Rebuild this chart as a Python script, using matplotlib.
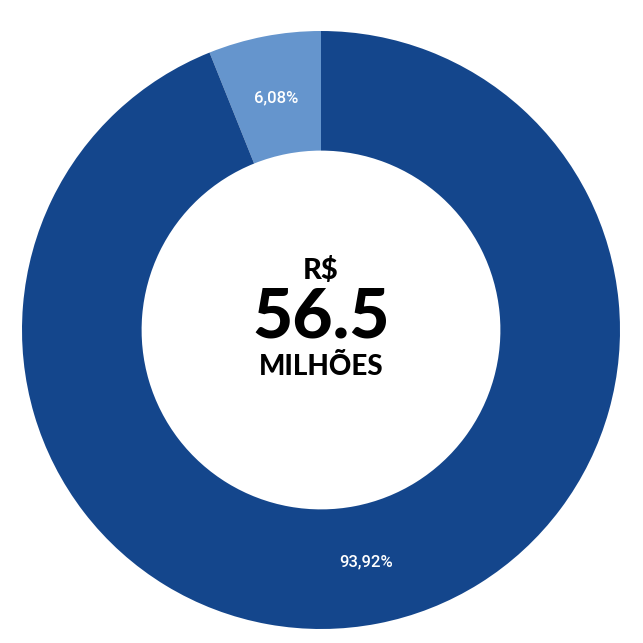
import matplotlib.pyplot as plt

partes = [6.08, 93.92]
cores = ['#6595cd', '#14468c']
total = '56.5'

fig = plt.figure(figsize=(6.43, 6.43), dpi=100)
ax = fig.add_axes([0, 0, 1, 1])


def fmt(p):
    return ('%.2f%%' % p).replace('.', ',')


wedges, txts, pcts = ax.pie(partes, colors=cores, startangle=90, counterclock=True,
                            radius=1, autopct=fmt, pctdistance=0.79,
                            wedgeprops=dict(width=0.4, edgecolor='none'))
for t in pcts:
    t.set_color('white')
    t.set_fontsize(12)
    t.set_family(['Roboto', 'DejaVu Sans'])
    t.set_weight('medium')

# limites depois do pie (pie reinicia os limites)
cx, cy, r = 321, 313, 299
ax.set_xlim(-cx / r, (643 - cx) / r)
ax.set_ylim(-cy / r, (643 - cy) / r)
ax.set_aspect('equal')
ax.axis('off')

ax.text(0, 0.2, 'R$', ha='center', va='center', fontsize=21, fontweight='black',
        family=['Lato', 'DejaVu Sans'], color='black')
ax.text(0, 0.04, total, ha='center', va='center', fontsize=50, fontweight='black',
        family=['Lato', 'DejaVu Sans'], color='black')
ax.text(0, -0.125, 'MILHÕES', ha='center', va='center', fontsize=20, fontweight='black',
        family=['Lato', 'DejaVu Sans'], color='black')

fig.savefig('out.png', dpi=100, facecolor='white')
